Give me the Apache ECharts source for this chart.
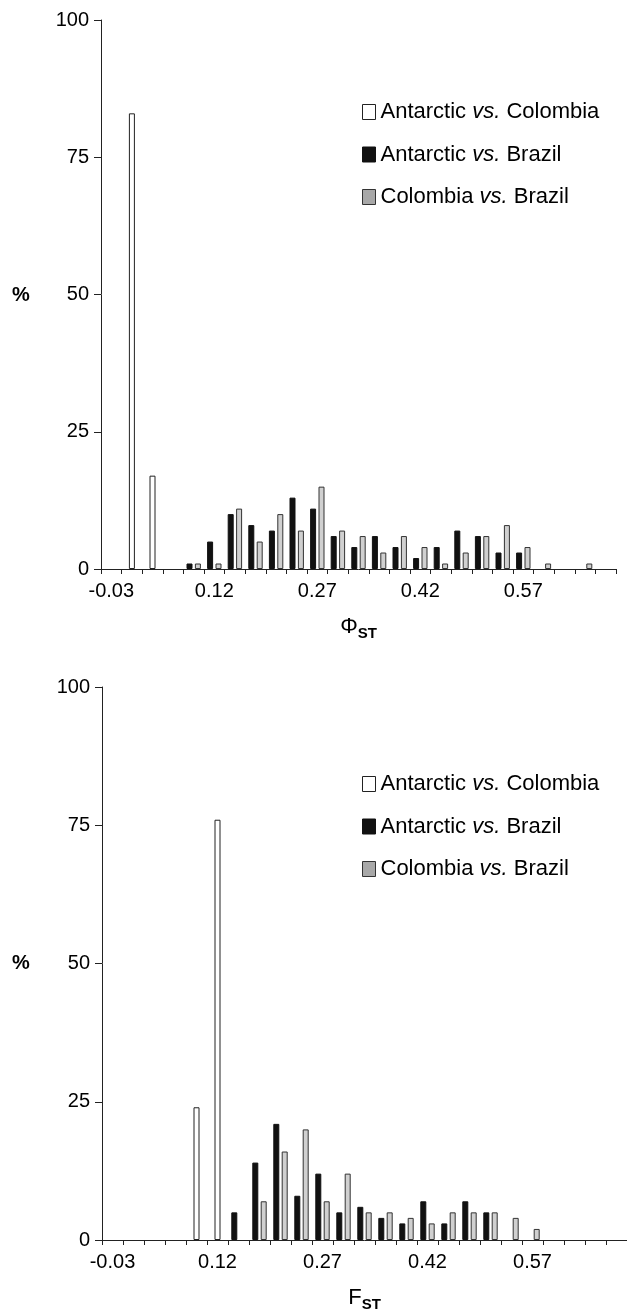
<!DOCTYPE html>
<html>
<head>
<meta charset="utf-8">
<script src="https://cdn.jsdelivr.net/npm/echarts@6/dist/echarts.min.js"></script>
<style>
  html, body { margin: 0; padding: 0; background: #fff; }
  #chart { width: 627px; height: 1315px; }
</style>
</head>
<body>
<div id="chart"></div>
<script>
// Bin labels (class lower bounds)
const bins = ['-0.03','0.00','0.03','0.06','0.09','0.12','0.15','0.18','0.21','0.24','0.27','0.30','0.33','0.36','0.39','0.42','0.45','0.48','0.51','0.54','0.57','0.60','0.63','0.66','0.69'];
const seriesNames = ['Antarctic vs. Colombia', 'Antarctic vs. Brazil', 'Colombia vs. Brazil'];
const yTicks = [0, 25, 50, 75, 100];

// Upper panel: PhiST (%)
const phiAntCol = [0,83,17,0,0,0,0,0,0,0,0,0,0,0,0,0,0,0,0,0,0,0,0,0,0];
const phiAntBra = [0,0,0,0,1,5,10,8,7,13,11,6,4,6,4,2,4,7,6,3,3,0,0,0,0];
const phiColBra = [0,0,0,0,1,1,11,5,10,7,15,7,6,3,6,4,1,3,6,8,4,1,0,1,0];

// Lower panel: FST (%)
const fstAntCol = [0,0,0,0,24,76,0,0,0,0,0,0,0,0,0,0,0,0,0,0,0,0,0,0,0];
const fstAntBra = [0,0,0,0,0,0,5,14,21,8,12,5,6,4,3,7,3,7,5,0,0,0,0,0,0];
const fstColBra = [0,0,0,0,0,0,0,7,16,20,7,12,5,5,4,3,5,5,5,4,2,0,0,0,0];

const FONT = '"Liberation Sans", Arial, Helvetica, sans-serif';
const nz = arr => arr.map(v => (v === 0 ? null : v));

const chart = echarts.init(document.getElementById('chart'), null, { renderer: 'canvas' });

function mainX(gridIndex, nameRich) {
  return {
    type: 'category', gridIndex, data: bins,
    axisLine: { lineStyle: { color: '#222', width: 1 } },
    axisTick: { show: true, interval: 0, length: 5, lineStyle: { color: '#222' } },
    axisLabel: { interval: 4, fontSize: 20, color: '#000', fontFamily: FONT, margin: 12 },
    name: nameRich, nameLocation: 'middle', nameGap: 44,
    nameTextStyle: {
      color: '#000', fontFamily: FONT,
      rich: {
        a: { fontSize: 22, fontFamily: FONT, color: '#000', lineHeight: 28 },
        b: { fontSize: 15, fontWeight: 'bold', fontFamily: FONT, color: '#000', lineHeight: 15, verticalAlign: 'bottom' }
      }
    }
  };
}
function hiddenX(gridIndex) {
  return { type: 'category', gridIndex, data: bins, show: false };
}
function yAx(gridIndex) {
  return {
    type: 'value', gridIndex, min: 0, max: 100, interval: 25,
    splitLine: { show: false },
    axisLine: { show: true, lineStyle: { color: '#222', width: 1 } },
    axisTick: { show: true, length: 7, lineStyle: { color: '#222' } },
    axisLabel: { fontSize: 20, color: '#000', fontFamily: FONT, margin: 12,
      formatter: v => (yTicks.includes(v) ? String(v) : '') }
  };
}
function bars(xMain, xHidden, yIdx, w, b, g) {
  return [
    { name: seriesNames[0], type: 'bar', xAxisIndex: xHidden, yAxisIndex: yIdx, data: nz(w),
      barWidth: 6, itemStyle: { color: '#ffffff', borderColor: '#222', borderWidth: 1 } },
    { name: seriesNames[1], type: 'bar', xAxisIndex: xMain, yAxisIndex: yIdx, data: nz(b),
      barWidth: 6, barGap: '40%', itemStyle: { color: '#111111', borderColor: '#111', borderWidth: 1 } },
    { name: seriesNames[2], type: 'bar', xAxisIndex: xMain, yAxisIndex: yIdx, data: nz(g),
      barWidth: 6, barGap: '40%', itemStyle: { color: '#d0d0d0', borderColor: '#333', borderWidth: 1 } }
  ];
}
function legend(top) {
  return {
    orient: 'vertical', left: 362, top: top, padding: 0,
    itemWidth: 13, itemHeight: 15, itemGap: 20.5,
    selectedMode: false, icon: 'rect',
    data: [
      { name: seriesNames[0], itemStyle: { color: '#ffffff', borderColor: '#222', borderWidth: 1 } },
      { name: seriesNames[1], itemStyle: { color: '#111111', borderColor: '#111', borderWidth: 1 } },
      { name: seriesNames[2], itemStyle: { color: '#a8a8a8', borderColor: '#333', borderWidth: 1 } }
    ],
    formatter: n => n.replace('vs.', '{i|vs.}'),
    textStyle: { fontSize: 22, lineHeight: 22, color: '#000', fontFamily: FONT,
      rich: { i: { fontStyle: 'italic', fontSize: 22, color: '#000', fontFamily: FONT } } }
  };
}

chart.setOption({
  animation: false,
  backgroundColor: '#fff',
  grid: [
    { left: 101, top: 20, width: 515, height: 549 },
    { left: 102, top: 687, width: 527, height: 553 }
  ],
  xAxis: [ mainX(0, '{a|Φ}{b|ST}'), hiddenX(0), mainX(1, '{a|F}{b|ST}'), hiddenX(1) ],
  yAxis: [ yAx(0), yAx(1) ],
  legend: [ legend(101), legend(773) ],
  graphic: [
    { type: 'text', left: 12, top: 285, style: { text: '%', font: 'bold 20px ' + FONT, fill: '#000' } },
    { type: 'text', left: 12, top: 953, style: { text: '%', font: 'bold 20px ' + FONT, fill: '#000' } }
  ],
  series: [].concat(
    bars(0, 1, 0, phiAntCol, phiAntBra, phiColBra),
    bars(2, 3, 1, fstAntCol, fstAntBra, fstColBra)
  )
});
</script>
</body>
</html>
